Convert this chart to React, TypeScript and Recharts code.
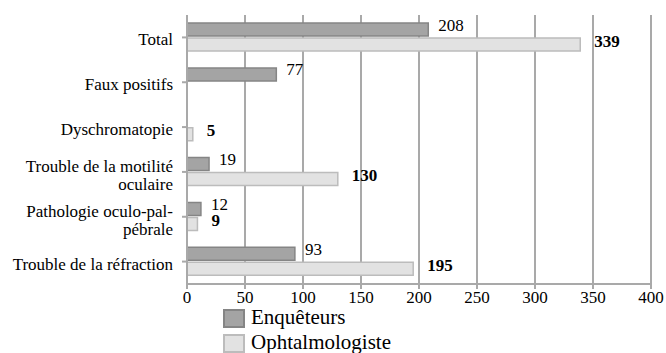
import React from 'react';
import { BarChart, Bar, XAxis, YAxis, CartesianGrid, LabelList } from 'recharts';

const categories = [
  'Total',
  'Faux positifs',
  'Dyschromatopie',
  'Trouble de la motilité\noculaire',
  'Pathologie oculo-pal-\npébrale',
  'Trouble de la réfraction',
];
const enqueteurs: (number | null)[] = [208, 77, null, 19, 12, 93];
const ophtalmologiste: (number | null)[] = [339, null, 5, 130, 9, 195];
const xTicks = [0, 50, 100, 150, 200, 250, 300, 350, 400];
const seriesNames = ['Enquêteurs', 'Ophtalmologiste'];

const data = categories.map((name, i) => ({
  name,
  enq: enqueteurs[i],
  oph: ophtalmologiste[i],
}));

const FONT = 'Liberation Serif, Times New Roman, serif';
const ENQ_FILL = '#a4a4a4';
const ENQ_STROKE = '#858585';
const OPH_FILL = '#e2e2e2';
const OPH_STROKE = '#bcbcbc';

const YTick = (props: any) => {
  const { x, y, payload } = props;
  const lines = String(payload.value).split('\n');
  const lh = 18;
  const start = lines.length === 1 ? 2 : -lh / 2 + 3;
  return (
    <text x={x - 7} y={y} textAnchor="end" style={{ fontFamily: FONT }} fontSize={17} fill="#000">
      {lines.map((l, i) => (
        <tspan key={i} x={x - 7} y={y + start + i * lh} dy="0.35em">{l}</tspan>
      ))}
    </text>
  );
};

const makeLabel = (bold: boolean, dx: number, dyOff: number) => (props: any) => {
  const { x, y, width, height, value } = props;
  if (value === null || value === undefined) return null;
  return (
    <text
      x={x + width + dx}
      y={y + height / 2 + dyOff}
      style={{ fontFamily: FONT }}
      fontSize={17}
      fontWeight={bold ? 'bold' : 'normal'}
      fill="#000"
      dy="0.35em"
    >
      {value}
    </text>
  );
};

export default function App() {
  return (
    <div style={{ position: 'absolute', left: 0, top: 0, width: 666, height: 353, background: '#fff' }}>
      <BarChart
        width={666}
        height={353}
        data={data}
        layout="vertical"
        margin={{ top: 15, right: 15, left: 0, bottom: 45 }}
        barCategoryGap="18%"
        barGap={2}
        style={{ fontFamily: FONT }}
      >
        <CartesianGrid horizontal={false} vertical={true} stroke="#a9a9a9" strokeWidth={2} />
        <XAxis
          type="number"
          domain={[0, 400]}
          ticks={xTicks}
          interval={0}
          height={24}
          axisLine={{ stroke: '#a9a9a9', strokeWidth: 2 }}
          tickLine={{ stroke: '#a9a9a9', strokeWidth: 2 }}
          tickSize={5}
          tick={{ fontSize: 17, fill: '#000', style: { fontFamily: FONT } }}
        />
        <XAxis
          xAxisId="top"
          orientation="top"
          type="number"
          domain={[0, 400]}
          ticks={xTicks}
          height={0}
          axisLine={{ stroke: '#b5b5b5', strokeWidth: 2 }}
          tick={false}
          tickLine={false}
        />
        <YAxis
          type="category"
          dataKey="name"
          width={187}
          axisLine={{ stroke: '#a9a9a9', strokeWidth: 2 }}
          tickLine={{ stroke: '#a9a9a9', strokeWidth: 2 }}
          tickSize={5}
          tick={<YTick />}
          interval={0}
        />
        <Bar dataKey="enq" name={seriesNames[0]} fill={ENQ_FILL} stroke={ENQ_STROKE} strokeWidth={1.5} isAnimationActive={false}>
          <LabelList dataKey="enq" content={makeLabel(false, 10, -5)} />
        </Bar>
        <Bar dataKey="oph" name={seriesNames[1]} fill={OPH_FILL} stroke={OPH_STROKE} strokeWidth={1.5} isAnimationActive={false}>
          <LabelList dataKey="oph" content={makeLabel(true, 14, -4)} />
        </Bar>
      </BarChart>
      <div
        style={{
          position: 'absolute',
          left: 223,
          top: 304,
          fontFamily: FONT,
          fontSize: 21,
          color: '#000',
          lineHeight: '26px',
        }}
      >
        {seriesNames.map((n, i) => (
          <div key={n} style={{ display: 'flex', alignItems: 'center', height: 25, whiteSpace: 'nowrap' }}>
            <span
              style={{
                display: 'inline-block',
                width: 18,
                height: 15,
                background: i === 0 ? ENQ_FILL : OPH_FILL,
                border: `2px solid ${i === 0 ? ENQ_STROKE : OPH_STROKE}`,
                marginRight: 6,
                marginTop: 4,
              }}
            />
            <span>{n}</span>
          </div>
        ))}
      </div>
    </div>
  );
}
